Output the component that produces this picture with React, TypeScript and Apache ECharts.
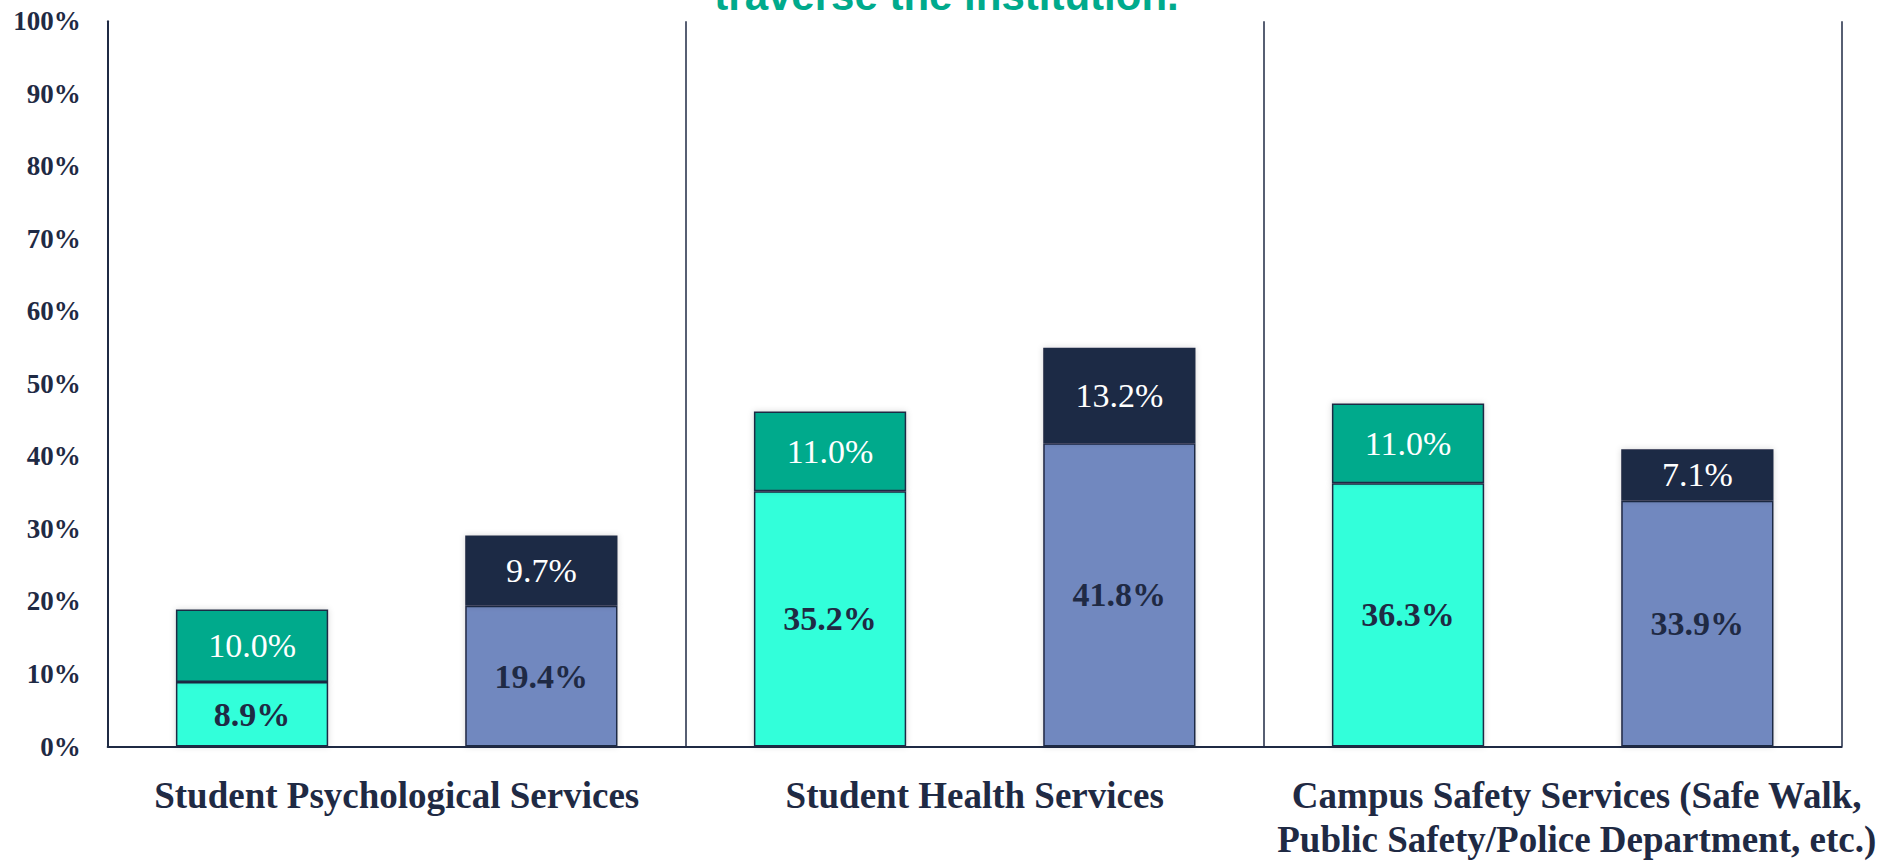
import React, { useEffect, useRef } from "react";
import * as echarts from "echarts";

// ---- Data ----
const categories: string[] = [
  "Student Psychological Services",
  "Student Health Services",
  "Campus Safety Services (Safe Walk,\nPublic Safety/Police Department, etc.)",
];
const groupABase: number[] = [8.9, 35.2, 36.3];
const groupATop: number[] = [10.0, 11.0, 11.0];
const groupBBase: number[] = [19.4, 41.8, 33.9];
const groupBTop: number[] = [9.7, 13.2, 7.1];
const yMin = 0;
const yMax = 100;
const yStep = 10;
const titleText = "traverse the institution.";

// ---- Styles ----
const NAVY = "#1f2a44";
const TEAL_DARK = "#00aa8c";
const TEAL_LIGHT = "#33ffda";
const BLUE_GRAY = "#7188bf";
const SERIF = "'Liberation Serif', 'Times New Roman', serif";

function makeSeries(name: string, stack: string, data: number[], color: string, labelColor: string, bold: boolean) {
  return {
    name,
    type: "bar",
    stack,
    data,
    barCategoryGap: "23.6%",
    barGap: "90%",
    itemStyle: {
      color,
      borderColor: NAVY,
      borderWidth: 1.5,
      shadowBlur: 6,
      shadowColor: "rgba(0,0,0,0.16)",
    },
    label: {
      show: true,
      position: "inside",
      formatter: (p: any) => Number(p.value).toFixed(1) + "%",
      fontFamily: SERIF,
      fontSize: 34,
      fontWeight: bold ? "bold" : "normal",
      color: labelColor,
      textBorderWidth: 0,
    },
    emphasis: { disabled: true },
  };
}

export default function App() {
  const ref = useRef<HTMLDivElement>(null);

  useEffect(() => {
    if (!ref.current) return;
    const chart = echarts.init(ref.current, undefined, { renderer: "svg" });
    const option: any = {
      animation: false,
      backgroundColor: "#ffffff",
      grid: { left: 107.7, right: 51.3, top: 21.3, bottom: 115.5, containLabel: false },
      graphic: [
        {
          type: "text",
          x: 946.5,
          y: -5,
          style: {
            text: titleText,
            fill: TEAL_DARK,
            fontFamily: "'Liberation Sans', Arial, sans-serif",
            fontSize: 42,
            fontWeight: "bold",
            align: "center",
            verticalAlign: "middle",
          },
        },
      ],
      xAxis: {
        type: "category",
        data: categories.map((c, i) =>
          i === 2 ? { value: c, textStyle: { padding: [0, 0, 0, 48] } } : c
        ),
        axisLine: { show: true, lineStyle: { color: NAVY, width: 2 } },
        axisTick: { show: false },
        splitLine: { show: true, lineStyle: { color: NAVY, width: 1.5 } },
        axisLabel: {
          interval: 0,
          margin: 27,
          color: NAVY,
          fontFamily: SERIF,
          fontSize: 37,
          fontWeight: "bold",
          lineHeight: 44,
        },
      },
      yAxis: {
        type: "value",
        min: yMin,
        max: yMax,
        interval: yStep,
        axisLine: { show: true, lineStyle: { color: NAVY, width: 2 } },
        axisTick: { show: false },
        splitLine: { show: false },
        axisLabel: {
          formatter: "{value}%",
          margin: 27,
          color: NAVY,
          fontFamily: SERIF,
          fontSize: 27,
          fontWeight: "bold",
        },
      },
      series: [
        makeSeries("Group A base", "a", groupABase, TEAL_LIGHT, NAVY, true),
        makeSeries("Group A top", "a", groupATop, TEAL_DARK, "#ffffff", false),
        makeSeries("Group B base", "b", groupBBase, BLUE_GRAY, NAVY, true),
        makeSeries("Group B top", "b", groupBTop, NAVY, "#ffffff", false),
      ],
    };
    chart.setOption(option);
    return () => chart.dispose();
  }, []);

  return (
    <div
      ref={ref}
      style={{ position: "absolute", left: 0, top: 0, width: 1893, height: 862 }}
    />
  );
}
